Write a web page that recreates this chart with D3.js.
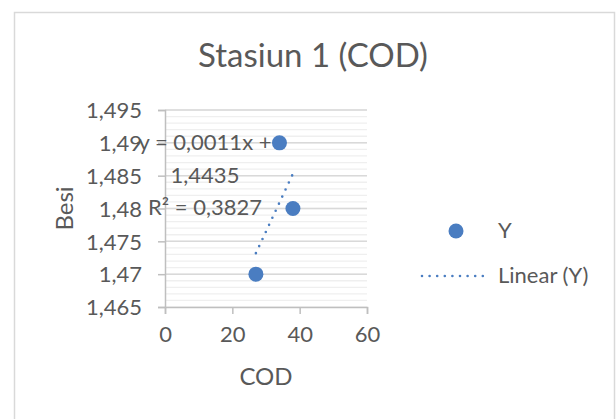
<!DOCTYPE html>
<html>
<head>
<meta charset="utf-8">
<script src="https://cdn.jsdelivr.net/npm/d3@7"></script>
<style>
  html, body { margin: 0; padding: 0; background: #fff; }
  svg { display: block; }
  text { font-family: Lato, "Open Sans", sans-serif; fill: #595959; }
</style>
</head>
<body>
<svg id="chart" width="616" height="419"></svg>
<script>
// Observations: COD against iron (Besi)
const cod = [27, 34, 38];
const besi = [1.47, 1.49, 1.48];

// Linear trendline as reported
const trendSlope = 0.0011;
const trendIntercept = 1.4435;
const trendR2 = 0.3827;

const xTicks = [0, 20, 40, 60];
const yTicks = [1.465, 1.47, 1.475, 1.48, 1.485, 1.49, 1.495];

const titleText = "Stasiun 1 (COD)";
const xTitle = "COD";
const yTitle = "Besi";
const legendLabels = ["Y", "Linear (Y)"];

const blue = "#4a7dc1";
const locale = d3.formatLocale({ decimal: ",", thousands: ".", grouping: [3], currency: ["", ""] });
const fmtY = v => locale.format(",")(+v.toFixed(4));
const fmtCoef = (v, d) => locale.format("." + d + "f")(v);

const svg = d3.select("#chart");

// outer chart frame
svg.append("rect")
  .attr("x", 14.5).attr("y", 12.5)
  .attr("width", 600).attr("height", 420)
  .attr("fill", "none").attr("stroke", "#d9d9d9").attr("stroke-width", 1.5);

const plot = { left: 165, right: 367, top: 110, bottom: 307 };

const x = d3.scaleLinear().domain([0, 60]).range([plot.left, plot.right]);
const y = d3.scaleLinear().domain([1.465, 1.495]).range([plot.bottom, plot.top]);

// minor gridlines every 0,001
const minor = d3.range(1.465, 1.4951, 0.001).map(v => +v.toFixed(3));
svg.append("g").selectAll("line").data(minor).join("line")
  .attr("x1", plot.left).attr("x2", plot.right)
  .attr("y1", d => y(d)).attr("y2", d => y(d))
  .attr("stroke", "#efefef").attr("stroke-width", 1.3);

// major gridlines
svg.append("g").selectAll("line").data(yTicks.slice(1)).join("line")
  .attr("x1", plot.left).attr("x2", plot.right)
  .attr("y1", d => y(d)).attr("y2", d => y(d))
  .attr("stroke", "#d9d9d9").attr("stroke-width", 1.5);

// y axis
const yAxis = svg.append("g")
  .attr("transform", `translate(${plot.left},0)`)
  .call(d3.axisLeft(y).tickValues(yTicks).tickFormat(fmtY).tickSize(7).tickPadding(16));
yAxis.select(".domain").attr("stroke", "#bfbfbf").attr("stroke-width", 1.5);
yAxis.selectAll(".tick line").attr("stroke", "#bfbfbf").attr("stroke-width", 1.5);
yAxis.selectAll(".tick text").style("font-size", "22px").attr("fill", "#595959").attr("dy", "0.35em");

// x axis
const xAxis = svg.append("g")
  .attr("transform", `translate(0,${plot.bottom})`)
  .call(d3.axisBottom(x).tickValues(xTicks).tickFormat(d3.format("d")).tickSize(7).tickPadding(12));
xAxis.select(".domain").attr("stroke", "#bfbfbf").attr("stroke-width", 1.5);
xAxis.selectAll(".tick line").attr("stroke", "#bfbfbf").attr("stroke-width", 1.5);
xAxis.selectAll(".tick text").style("font-size", "22px").attr("fill", "#595959");

// trendline across the observed COD range
const xr = d3.extent(cod);
svg.append("line")
  .attr("x1", x(xr[0])).attr("y1", y(trendSlope * xr[0] + trendIntercept))
  .attr("x2", x(xr[1])).attr("y2", y(trendSlope * xr[1] + trendIntercept))
  .attr("stroke", blue).attr("stroke-width", 2.6)
  .attr("stroke-linecap", "round").attr("stroke-dasharray", "0,7.8");

// data points
svg.append("g").selectAll("circle").data(cod).join("circle")
  .attr("cx", d => x(d)).attr("cy", (d, i) => y(besi[i]))
  .attr("r", 7.5).attr("fill", blue);

// trendline equation
const eq = svg.append("text").attr("text-anchor", "middle").style("font-size", "22px");
eq.append("tspan").attr("x", 205).attr("y", 150).text(`y = ${fmtCoef(trendSlope, 4)}x +`);
eq.append("tspan").attr("x", 205).attr("y", 183).text(fmtCoef(trendIntercept, 4));
eq.append("tspan").attr("x", 205).attr("y", 215).text(`R² = ${fmtCoef(trendR2, 4)}`);

// titles
svg.append("text").attr("x", 313).attr("y", 67).attr("text-anchor", "middle")
  .style("font-size", "33px").text(titleText);
svg.append("text").attr("x", (plot.left + plot.right) / 2).attr("y", 385).attr("text-anchor", "middle")
  .style("font-size", "24px").text(xTitle);
svg.append("text").attr("transform", `translate(73,${(plot.top + plot.bottom) / 2}) rotate(-90)`)
  .attr("text-anchor", "middle").style("font-size", "24px").text(yTitle);

// legend
const lg = svg.append("g");
lg.append("circle").attr("cx", 456).attr("cy", 231).attr("r", 7.5).attr("fill", blue);
lg.append("text").attr("x", 498).attr("y", 238).style("font-size", "22px").text(legendLabels[0]);
lg.append("line").attr("x1", 422).attr("x2", 490).attr("y1", 276).attr("y2", 276)
  .attr("stroke", blue).attr("stroke-width", 2.6)
  .attr("stroke-linecap", "round").attr("stroke-dasharray", "0,7.6");
lg.append("text").attr("x", 498).attr("y", 283).style("font-size", "22px").text(legendLabels[1]);
</script>
</body>
</html>
